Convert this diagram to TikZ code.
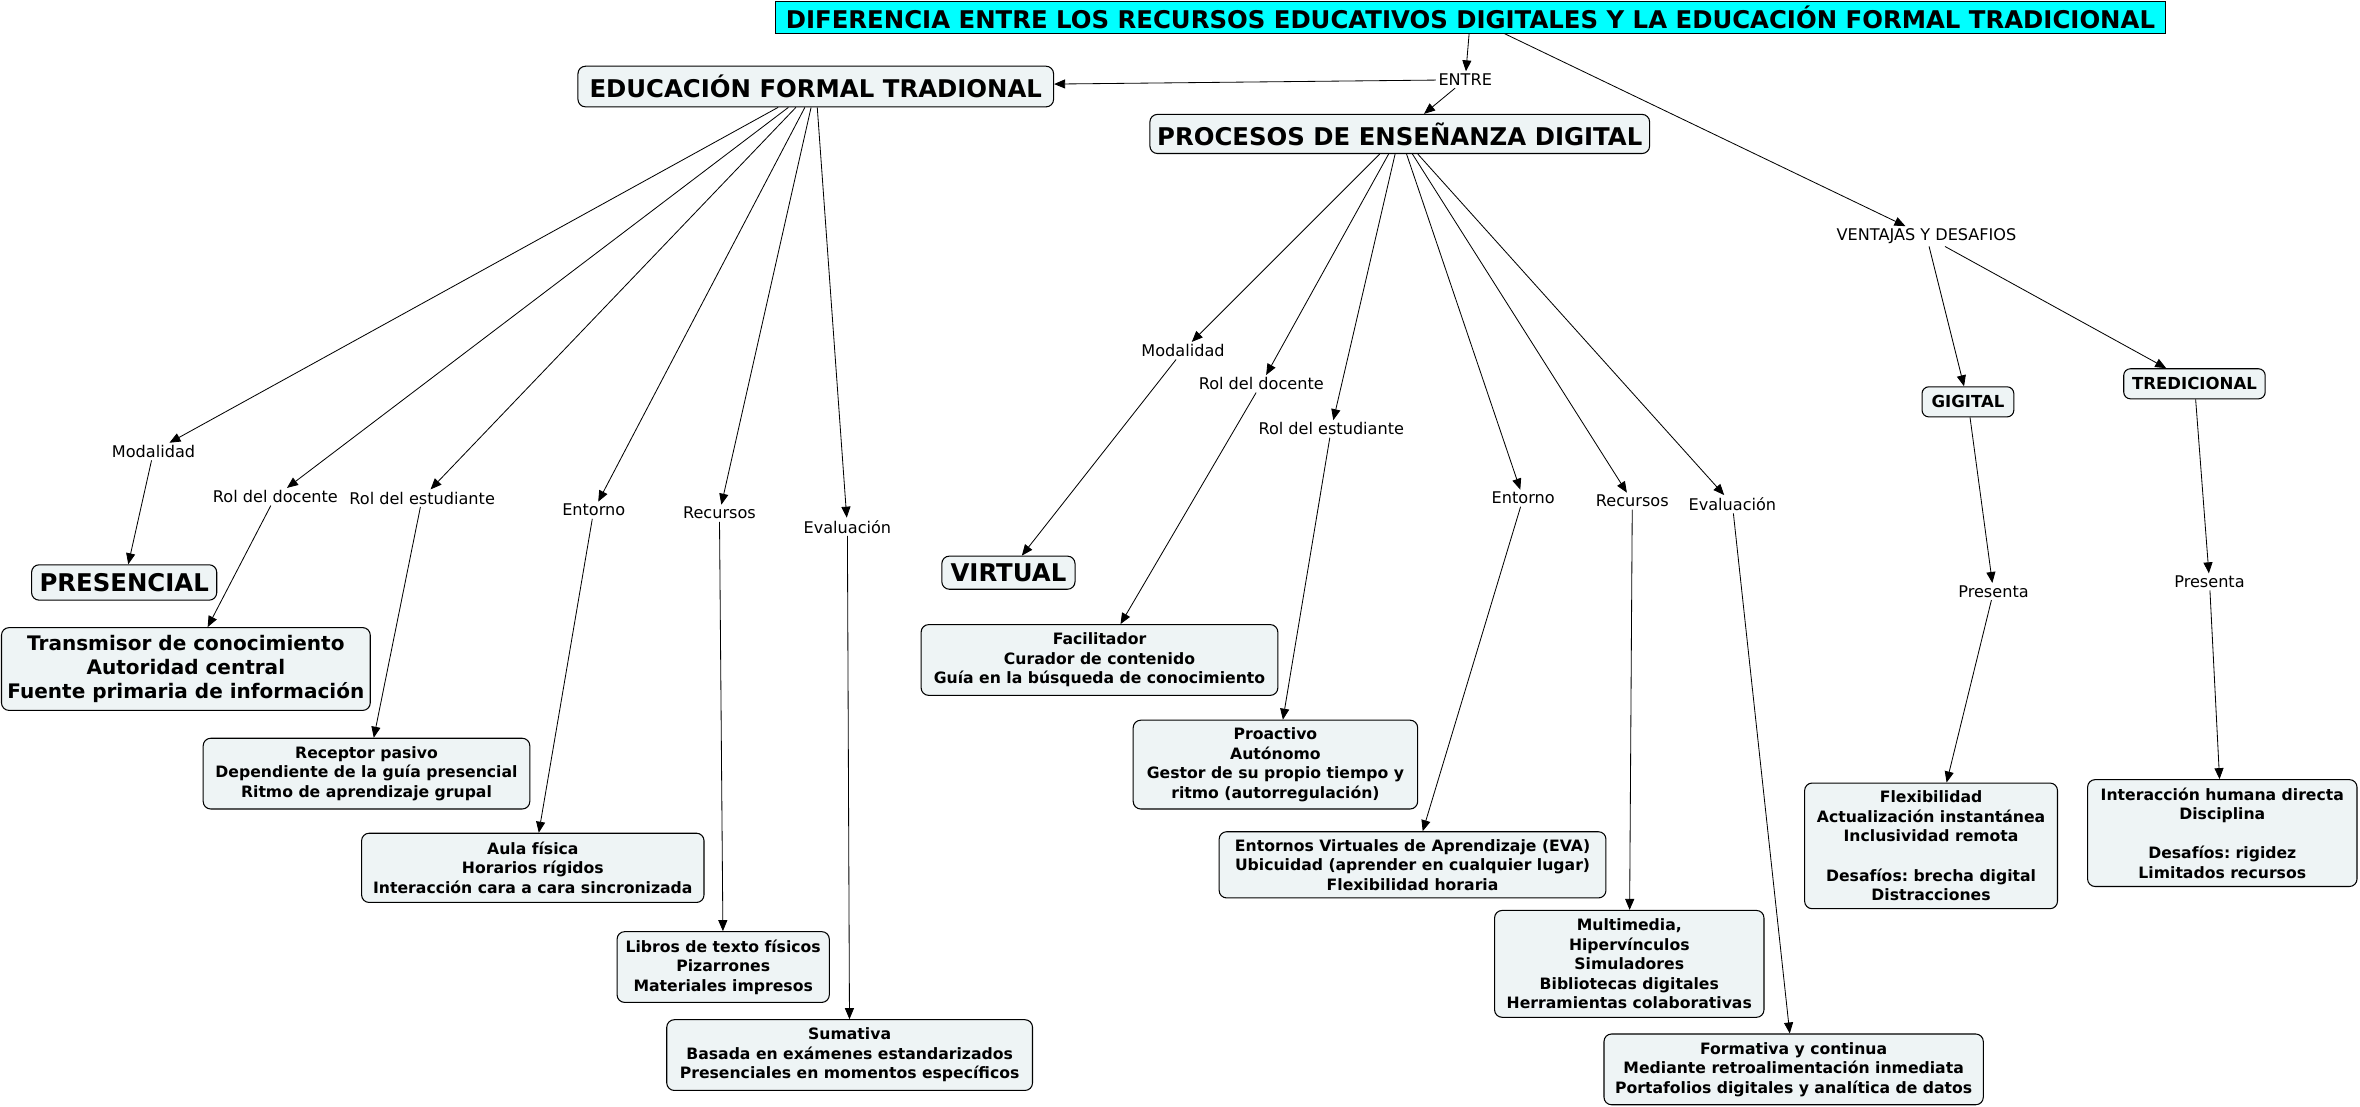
\documentclass[tikz,border=0pt]{standalone}
\usepackage{fontspec}
\setmainfont{DejaVu Sans}
\usetikzlibrary{arrows.meta}
\definecolor{boxfill}{RGB}{238,244,245}
\definecolor{titlecyan}{RGB}{0,255,255}
\frenchspacing
\begin{document}
\begin{tikzpicture}[x=1pt,y=-1pt,
  lab/.style={font=\fontsize{10.7}{12.8}\selectfont, inner sep=1.5pt},
  titlebox/.style={draw=black, line width=0.6pt, fill=titlecyan, inner sep=0pt,
    font=\bfseries\fontsize{16.2}{19}\selectfont, minimum width=924pt, minimum height=21pt},
  bigbox/.style={draw=black, line width=0.7pt, fill=boxfill, rounded corners=5pt,
    font=\bfseries\fontsize{16.2}{19}\selectfont, inner sep=0pt},
  midbox/.style={draw=black, line width=0.7pt, fill=boxfill, rounded corners=4.5pt,
    font=\bfseries\fontsize{11}{13}\selectfont, inner sep=0pt},
  smallbox/.style={draw=black, line width=0.7pt, fill=boxfill, rounded corners=5pt,
    font=\bfseries\fontsize{10.4}{13}\selectfont, align=center, inner sep=0pt},
  con/.style={line width=0.55pt, -{Triangle[length=7.3pt,width=6pt]}}
]
\useasboundingbox (0,0) rectangle (1568,735);

% top
\node[titlebox] (title) at (977,11.5) {DIFERENCIA ENTRE LOS RECURSOS EDUCATIVOS DIGITALES Y LA EDUCACIÓN FORMAL TRADICIONAL};
\node[lab] (entre) at (973.5,53) {ENTRE};
\node[bigbox, minimum width=316pt, minimum height=27pt] (edu) at (542,57.5) {EDUCACIÓN FORMAL TRADIONAL};
\node[bigbox, minimum width=332pt, minimum height=26pt] (proc) at (930,89) {PROCESOS DE ENSEÑANZA DIGITAL};
\node[lab] (vent) at (1280,157) {VENTAJAS Y DESAFIOS};

% ventajas branch
\node[midbox, minimum width=61pt, minimum height=20pt] (gig) at (1307.5,267) {GIGITAL};
\node[midbox, minimum width=94pt, minimum height=20pt] (tred) at (1458,255) {TREDICIONAL};
\node[lab] (pres1) at (1324.5,393) {Presenta};
\node[lab] (pres2) at (1468,386.6) {Presenta};
\node[smallbox, minimum width=168pt, minimum height=83.5pt] (flex) at (1283,562)
  {Flexibilidad\\Actualización instantánea\\Inclusividad remota\\[13pt]Desafíos: brecha digital\\Distracciones};
\node[smallbox, minimum width=179pt, minimum height=71pt] (inter) at (1476.5,553.5)
  {Interacción humana directa\\Disciplina\\[13pt]Desafíos: rigidez\\Limitados recursos};

% traditional branch
\node[lab] (mod1) at (102,300) {Modalidad};
\node[lab] (doc1) at (183,330) {Rol del docente};
\node[lab] (est1) at (280.5,331) {Rol del estudiante};
\node[lab] (ent1) at (394.5,339) {Entorno};
\node[lab] (rec1) at (478,341) {Recursos};
\node[lab] (eva1) at (563,350) {Evaluación};
\node[bigbox, minimum width=123pt, minimum height=23.5pt] (presen) at (82.5,387) {PRESENCIAL};
\node[smallbox, font=\bfseries\fontsize{13.3}{16}\selectfont, minimum width=245pt, minimum height=55pt] (trans) at (123.5,444.5)
  {Transmisor de conocimiento\\Autoridad central\\Fuente primaria de información};
\node[smallbox, minimum width=217pt, minimum height=47pt] (recep) at (243.5,514)
  {Receptor pasivo\\Dependiente de la guía presencial\\Ritmo de aprendizaje grupal};
\node[smallbox, minimum width=227.5pt, minimum height=46pt] (aula) at (354,576.6)
  {Aula física\\Horarios rígidos\\Interacción cara a cara sincronizada};
\node[smallbox, minimum width=141pt, minimum height=47pt] (libros) at (480.5,642.5)
  {Libros de texto físicos\\Pizarrones\\Materiales impresos};
\node[smallbox, minimum width=243pt, minimum height=47pt] (suma) at (564.5,701)
  {Sumativa\\Basada en exámenes estandarizados\\Presenciales en momentos específicos};

% digital branch
\node[lab] (mod2) at (786,233) {Modalidad};
\node[lab] (doc2) at (838,255) {Rol del docente};
\node[lab] (est2) at (884.5,285) {Rol del estudiante};
\node[lab] (ent2) at (1012,331) {Entorno};
\node[lab] (rec2) at (1084.5,333) {Recursos};
\node[lab] (eva2) at (1151,335) {Evaluación};
\node[bigbox, minimum width=88.5pt, minimum height=22pt] (virt) at (670,380.5) {VIRTUAL};
\node[smallbox, minimum width=237pt, minimum height=47pt] (facil) at (730.5,438.5)
  {Facilitador\\Curador de contenido\\Guía en la búsqueda de conocimiento};
\node[smallbox, minimum width=189pt, minimum height=59pt] (proac) at (847.4,508)
  {Proactivo\\Autónomo\\Gestor de su propio tiempo y\\ritmo (autorregulación)};
\node[smallbox, minimum width=257pt, minimum height=44pt] (eva) at (938.5,574.6)
  {Entornos Virtuales de Aprendizaje (EVA)\\Ubicuidad (aprender en cualquier lugar)\\Flexibilidad horaria};
\node[smallbox, minimum width=179pt, minimum height=71pt] (multi) at (1082.5,640.4)
  {Multimedia,\\Hipervínculos\\Simuladores\\Bibliotecas digitales\\Herramientas colaborativas};
\node[smallbox, minimum width=252pt, minimum height=47pt] (forma) at (1191.7,710.5)
  {Formativa y continua\\Mediante retroalimentación inmediata\\Portafolios digitales y analítica de datos};

% connectors
\draw[con] (title) -- (entre);
\draw[con] (entre) -- (edu);
\draw[con] (entre) -- (proc);
\draw[con] (title) -- (vent);
\draw[con] (vent) -- (gig);
\draw[con] (vent) -- (tred);
\draw[con] (gig) -- (pres1);
\draw[con] (pres1) -- (flex);
\draw[con] (tred) -- (pres2);
\draw[con] (pres2) -- (inter);

\foreach \l in {mod1,doc1,est1,ent1,rec1,eva1} \draw[con] (edu) -- (\l);
\draw[con] (mod1) -- (presen);
\draw[con] (doc1) -- (trans);
\draw[con] (est1) -- (recep);
\draw[con] (ent1) -- (aula);
\draw[con] (rec1) -- (libros);
\draw[con] (eva1) -- (suma);

\foreach \l in {mod2,doc2,est2,ent2,rec2,eva2} \draw[con] (proc) -- (\l);
\draw[con] (mod2) -- (virt);
\draw[con] (doc2) -- (facil);
\draw[con] (est2) -- (proac);
\draw[con] (ent2) -- (eva);
\draw[con] (rec2) -- (multi);
\draw[con] (eva2) -- (forma);
\end{tikzpicture}
\end{document}
